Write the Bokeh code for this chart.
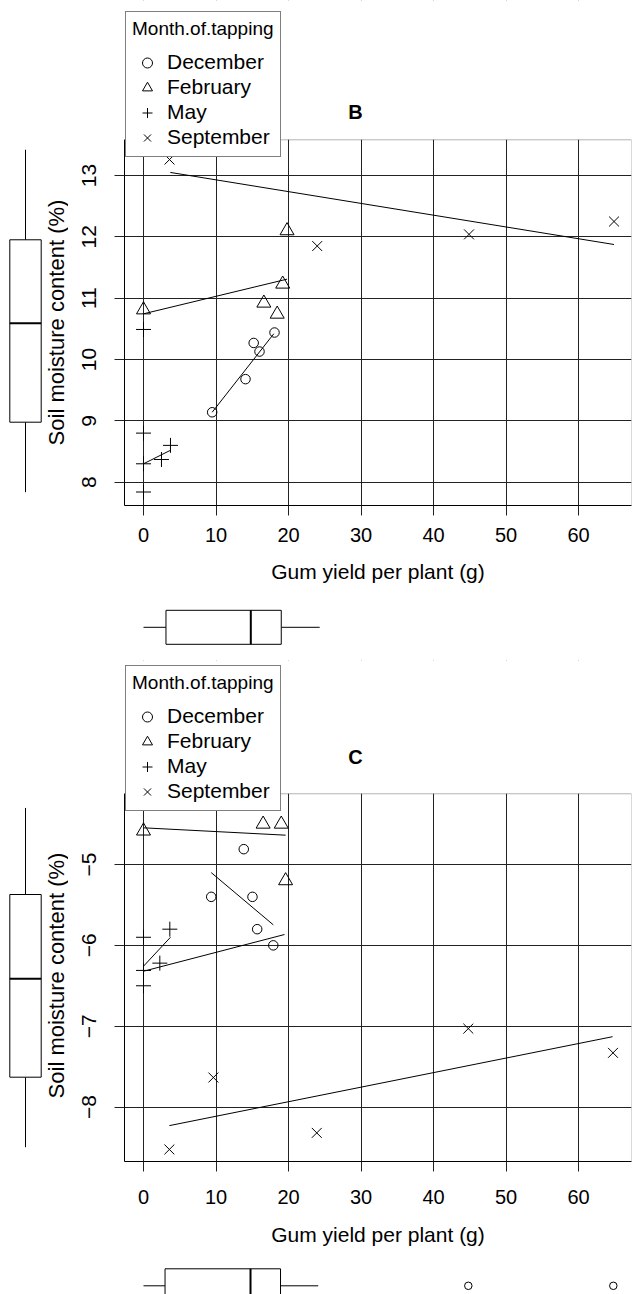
import math
from bokeh.plotting import figure
from bokeh.models import Range1d, FixedTicker, Legend, LegendItem, Label, BoxAnnotation
from bokeh.layouts import column, row
from bokeh.embed import file_html
from bokeh.resources import INLINE

FONT = "Liberation Sans"

# ---------------- data ----------------
months = ["December", "February", "May", "September"]
x_ticks = [0, 10, 20, 30, 40, 50, 60]

# Panel B
b_dec_x = [9.47, 14.07, 15.2, 16.0, 18.07]
b_dec_y = [9.14, 9.68, 10.27, 10.13, 10.44]
b_feb_x = [0.0, 16.6, 18.44, 19.2, 19.8]
b_feb_y = [10.81, 10.92, 10.74, 11.23, 12.10]
b_may_x = [0.0, 0.0, 0.0, 0.0, 2.48, 3.72]
b_may_y = [10.49, 8.80, 8.30, 7.84, 8.37, 8.60]
b_sep_x = [3.59, 23.96, 44.9, 64.9]
b_sep_y = [13.26, 11.85, 12.04, 12.25]

b_dec_fit_x = [9.47, 17.97]
b_dec_fit_y = [9.14, 10.42]
b_feb_fit_x = [0.0, 19.8]
b_feb_fit_y = [10.745, 11.31]
b_may_fit_x = [0.0, 3.72]
b_may_fit_y = [8.30, 8.52]
b_sep_fit_x = [3.7, 64.9]
b_sep_fit_y = [13.05, 11.875]

b_y_ticks = [8, 9, 10, 11, 12, 13]
b_y_box = [7.837, 8.978, 10.592, 11.952, 13.42]      # min, q1, median, q3, max
b_x_box = [0.0, 3.1, 14.8, 19.0, 24.3]
b_x_out = []

# Panel C
c_dec_x = [9.34, 13.83, 15.03, 15.68, 17.9]
c_dec_y = [-5.40, -4.81, -5.40, -5.80, -6.00]
c_feb_x = [0.0, 16.5, 19.0, 19.6]
c_feb_y = [-4.585, -4.50, -4.50, -5.20]
c_may_x = [0.0, 3.63, 2.25, 0.0, 0.0]
c_may_y = [-5.90, -5.80, -6.22, -6.31, -6.50]
c_sep_x = [3.57, 9.64, 23.9, 44.8, 64.76]
c_sep_y = [-8.525, -7.635, -8.32, -7.03, -7.33]

c_dec_fit_x = [9.34, 17.9]
c_dec_fit_y = [-5.10, -5.746]
c_feb_fit_x = [0.0, 19.6]
c_feb_fit_y = [-4.546, -4.637]
c_may_fit_x = [0.0, 3.72]
c_may_fit_y = [-6.258, -5.90]
c_extra_fit_x = [0.0, 19.45]
c_extra_fit_y = [-6.32, -5.866]
c_sep_fit_x = [3.57, 64.7]
c_sep_fit_y = [-8.23, -7.13]

c_y_ticks = [-8, -7, -6, -5]
c_y_box = [-8.497, -7.631, -6.414, -5.371, -4.30]
c_x_box = [0.0, 2.97, 14.76, 18.9, 24.1]
c_x_out = [44.8, 64.8]

# ---------------- styling / layout ----------------
MARKERS = ["circle", "triangle", "cross", "x"]
MSIZE = [9.5, 14, 15, 14]
GRID = "#222222"

W_TOTAL = 632
W_YBOX = 68
BORDER_LEFT = 56          # frame left edge at x = 124
BORDER_RIGHT = 1
x_range = Range1d(-2.621, 67.31)


def make_panel(letter, series, fits, y_range, y_vis_top, y_ticks, y_box, x_box, x_out,
               h_main, bottom, legend_top, frame_bottom, title_y, ylabel_center,
               tick_standoff, xlabel_standoff, h_xbox, xbox_center, show_minus):
    # frame_bottom, legend_top, title_y, ylabel_center are in row-local pixels
    p = figure(width=W_TOTAL - W_YBOX, height=h_main, x_range=x_range, y_range=y_range,
               output_backend="svg", toolbar_location=None, title=None,
               min_border_left=BORDER_LEFT, min_border_right=BORDER_RIGHT,
               min_border_top=0, min_border_bottom=bottom)
    p.outline_line_color = None
    p.xaxis.ticker = FixedTicker(ticks=x_ticks)
    p.yaxis.ticker = FixedTicker(ticks=y_ticks)
    p.yaxis.bounds = (y_range.start, y_vis_top)
    if show_minus:
        p.yaxis.major_label_overrides = {t: ("\u2212%d" % abs(t)) for t in y_ticks}
    p.grid.grid_line_color = GRID
    p.grid.grid_line_width = 1
    p.axis.major_tick_out = 10
    p.axis.major_tick_in = 0
    p.axis.minor_tick_out = 0
    p.axis.minor_tick_in = 0
    p.axis.axis_line_color = "black"
    p.axis.major_tick_line_color = GRID
    p.axis.major_label_text_font = FONT
    p.axis.major_label_text_color = "black"
    p.axis.axis_label_text_font = FONT
    p.axis.axis_label_text_font_style = "normal"
    p.axis.axis_label_text_color = "black"
    p.xaxis.axis_label = "Gum yield per plant (g)"
    p.xaxis.major_label_text_font_size = "20px"
    p.yaxis.major_label_text_font_size = "21px"
    p.xaxis.axis_label_text_font_size = "21px"
    p.yaxis.major_label_orientation = "vertical"
    p.xaxis.major_label_standoff = tick_standoff
    p.xaxis.axis_label_standoff = xlabel_standoff
    p.yaxis.major_label_standoff = 18

    for fx, fy in fits:
        p.line(fx, fy, line_color="black", line_width=1)

    items = []
    for (sx, sy), name, mk, ms in zip(series, months, MARKERS, MSIZE):
        r = p.scatter(sx, sy, marker=mk, size=ms, line_color="black",
                      fill_color=None, line_width=1)
        items.append(LegendItem(label=name, renderers=[r]))

    # white area above the panel's plotting region, and the region's border
    p.add_layout(BoxAnnotation(bottom=y_vis_top, fill_color="white", fill_alpha=1.0,
                               line_color=None))
    p.add_layout(BoxAnnotation(top=y_vis_top, fill_alpha=0.0, line_color="black",
                               line_width=1))

    leg_h = 144
    legend = Legend(items=items, location=(1, frame_bottom - legend_top - leg_h),
                    title="Month.of.tapping", title_text_font=FONT,
                    title_text_font_size="19px", title_text_font_style="normal",
                    title_text_color="black", title_standoff=10,
                    label_text_font=FONT, label_text_font_size="21px",
                    label_text_color="black",
                    padding=6, spacing=0, margin=0, glyph_height=25, glyph_width=30,
                    label_height=25, label_standoff=5, border_line_color="black",
                    border_line_width=1, background_fill_color="white",
                    background_fill_alpha=1.0)
    p.add_layout(legend)

    p.add_layout(Label(x=231, y=frame_bottom - title_y, x_units="screen",
                       y_units="screen", text=letter, text_font=FONT,
                       text_font_size="20px", text_font_style="bold", text_color="black",
                       text_align="center", text_baseline="middle"))

    # vertical marginal boxplot (shares y scale) + y axis title
    yb = figure(width=W_YBOX, height=h_main, x_range=Range1d(0, W_YBOX), y_range=y_range,
                output_backend="svg", toolbar_location=None, title=None,
                x_axis_type=None, y_axis_type=None, min_border_left=0, min_border_right=0,
                min_border_top=0, min_border_bottom=bottom)
    yb.outline_line_color = None
    yb.grid.visible = False
    cx = 25
    yb.segment(x0=[cx, cx], x1=[cx, cx], y0=[y_box[0], y_box[3]], y1=[y_box[1], y_box[4]],
               line_color="black", line_width=1)
    yb.vbar(x=[cx], width=31.4, bottom=[y_box[1]], top=[y_box[3]], fill_color="white",
            line_color="black", line_width=1)
    yb.segment(x0=[cx - 15.7], x1=[cx + 15.7], y0=[y_box[2]], y1=[y_box[2]],
               line_color="black", line_width=2)
    yb.add_layout(Label(x=56, y=frame_bottom - ylabel_center, x_units="screen",
                        y_units="screen", text="Soil moisture content (%)", text_font=FONT,
                        text_font_size="22px", angle=math.pi / 2, text_align="center",
                        text_baseline="middle", text_color="black"))

    # horizontal marginal boxplot (shares x scale)
    xb = figure(width=W_TOTAL, height=h_xbox, x_range=x_range, y_range=Range1d(0, h_xbox),
                output_backend="svg", toolbar_location=None, title=None,
                x_axis_type=None, y_axis_type=None, min_border_left=W_YBOX + BORDER_LEFT,
                min_border_right=BORDER_RIGHT, min_border_top=0, min_border_bottom=0)
    xb.outline_line_color = None
    xb.grid.visible = False
    yc = xbox_center
    xb.segment(x0=[x_box[0], x_box[3]], x1=[x_box[1], x_box[4]], y0=[yc, yc], y1=[yc, yc],
               line_color="black", line_width=1)
    xb.hbar(y=[yc], height=34, left=[x_box[1]], right=[x_box[3]], fill_color="white",
            line_color="black", line_width=1)
    xb.segment(x0=[x_box[2]], x1=[x_box[2]], y0=[yc - 17], y1=[yc + 17],
               line_color="black", line_width=2)
    if x_out:
        xb.scatter(x_out, [yc] * len(x_out), marker="circle", size=7.5,
                   line_color="black", fill_color=None, line_width=1)

    return column(row(yb, p), xb)


# Panel B: row spans page y 0..595, plotting region 139.3..505
panel_b = make_panel(
    "B",
    [(b_dec_x, b_dec_y), (b_feb_x, b_feb_y), (b_may_x, b_may_y), (b_sep_x, b_sep_y)],
    [(b_dec_fit_x, b_dec_fit_y), (b_feb_fit_x, b_feb_fit_y), (b_may_fit_x, b_may_fit_y),
     (b_sep_fit_x, b_sep_fit_y)],
    Range1d(7.620, 15.853), 13.582, b_y_ticks, b_y_box, b_x_box, b_x_out,
    h_main=595, bottom=90,
    legend_top=12.7, frame_bottom=505, title_y=111, ylabel_center=322,
    tick_standoff=12, xlabel_standoff=15,
    h_xbox=65, xbox_center=33.2, show_minus=False)

# Panel C: row spans page y 660..1255, plotting region 793.3..1161
panel_c = make_panel(
    "C",
    [(c_dec_x, c_dec_y), (c_feb_x, c_feb_y), (c_may_x, c_may_y), (c_sep_x, c_sep_y)],
    [(c_dec_fit_x, c_dec_fit_y), (c_feb_fit_x, c_feb_fit_y), (c_may_fit_x, c_may_fit_y),
     (c_extra_fit_x, c_extra_fit_y), (c_sep_fit_x, c_sep_fit_y)],
    Range1d(-8.674, -2.476), -4.125, c_y_ticks, c_y_box, c_x_box, c_x_out,
    h_main=595, bottom=94,
    legend_top=666.7 - 660, frame_bottom=1161 - 660, title_y=756.7 - 660,
    ylabel_center=975 - 660,
    tick_standoff=18, xlabel_standoff=16,
    h_xbox=39, xbox_center=8.7, show_minus=True)

layout = column(panel_b, panel_c)

open("out.html", "w").write(file_html(layout, INLINE))
